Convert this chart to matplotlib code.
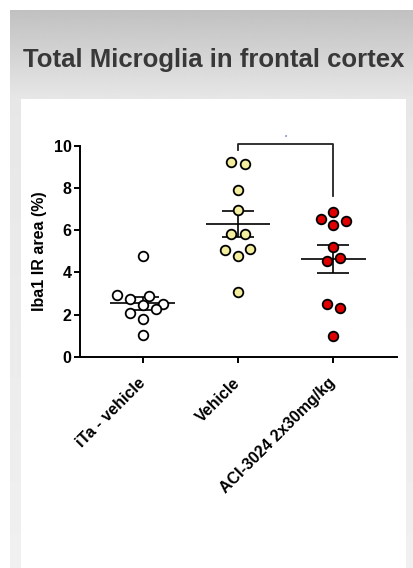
import matplotlib
matplotlib.use("Agg")
import matplotlib.pyplot as plt
from matplotlib.patches import Rectangle
import numpy as np

plt.rcParams["font.family"] = ["Liberation Sans", "DejaVu Sans"]
plt.rcParams["font.weight"] = "bold"

W, H = 413, 568

groups = ["iTa - vehicle", "Vehicle", "ACI-3024 2x30mg/kg"]
face_colors = ["white", "#f3ee9e", "#e00000"]

# Iba1 IR area (%) per animal, with horizontal jitter offsets
ita_vals = [4.78, 2.93, 2.73, 2.90, 2.46, 2.51, 2.26, 2.07, 1.80, 1.04]
ita_dx = [0.0, -0.27, -0.14, 0.07, 0.0, 0.21, 0.14, -0.14, 0.0, 0.0]
veh_vals = [9.21, 9.15, 7.89, 6.96, 5.81, 5.81, 5.06, 4.80, 5.11, 3.06]
veh_dx = [-0.07, 0.07, 0.0, 0.0, -0.07, 0.07, -0.14, 0.0, 0.13, 0.0]
aci_vals = [6.86, 6.55, 6.44, 6.23, 5.19, 4.56, 4.70, 2.49, 2.33, 0.99]
aci_dx = [0.0, -0.13, 0.13, 0.0, 0.0, -0.07, 0.07, -0.07, 0.07, 0.0]

values = [ita_vals, veh_vals, aci_vals]
offsets = [ita_dx, veh_dx, aci_dx]

# significance bracket between Vehicle and ACI-3024
bracket = (1, 2)
bracket_top = 10.1
bracket_legs = (9.8, 7.6)

fig = plt.figure(figsize=(W / 100, H / 100), dpi=100)

# page background: grey header gradient with a white card
bg = fig.add_axes([0, 0, 1, 1])
bg.set_xlim(0, W)
bg.set_ylim(H, 0)
bg.axis("off")
grad = np.concatenate([np.linspace(0.755, 0.905, 90), np.linspace(0.905, 0.94, 468)])
bg.imshow(np.tile(grad[:, None], (1, 2)), cmap="gray", vmin=0, vmax=1,
          extent=(10, W, H, 10), aspect="auto", interpolation="bilinear")
bg.add_patch(Rectangle((21, 99), 385, H - 99, facecolor="white", edgecolor="none"))
bg.text(23, 60, "Total Microglia in frontal cortex", fontsize=18.5,
        fontweight="bold", color="#383838", va="center", ha="left")

ax = fig.add_axes([80 / W, 1 - 357 / H, 317 / W, (357 - 145.7) / H])
ax.set_facecolor("none")

for i, (vals, dx) in enumerate(zip(values, offsets)):
    vals = np.asarray(vals)
    x = i + np.asarray(dx)
    mean = vals.mean()
    sem = vals.std(ddof=1) / np.sqrt(len(vals))
    ax.hlines(mean, i - 0.34, i + 0.34, color="black", lw=1.2, zorder=2)
    ax.vlines(i, mean - sem, mean + sem, color="black", lw=1.2, zorder=2)
    ax.hlines([mean - sem, mean + sem], i - 0.17, i + 0.17, color="black",
              lw=1.2, zorder=2)
    ax.scatter(x, vals, s=48, facecolor=face_colors[i], edgecolor="black",
               linewidths=1.3, zorder=3)

a, b = bracket
ax.plot([a, a, b, b], [bracket_legs[0], bracket_top, bracket_top, bracket_legs[1]],
        color="#222222", lw=1.3, clip_on=False)
ax.text((a + b) / 2, bracket_top + 0.3, "*", fontsize=4, color="#4a6a9a",
        ha="center", va="center")

ax.set_xlim(-0.66, 2.67)
ax.set_ylim(0, 10)
ax.set_yticks([0, 2, 4, 6, 8, 10])
ax.set_xticks(range(len(groups)))
ax.set_xticklabels(groups, rotation=45, ha="right", va="center",
                   rotation_mode="anchor", fontsize=11.5, fontweight="bold")
for lbl in ax.get_yticklabels():
    lbl.set_fontweight("bold")
    lbl.set_fontsize(11.5)
ax.set_ylabel("Iba1 IR area (%)", fontsize=11.5, fontweight="bold", labelpad=5)
for side in ["top", "right"]:
    ax.spines[side].set_visible(False)
for side in ["left", "bottom"]:
    ax.spines[side].set_linewidth(1.4)
ax.tick_params(direction="out", length=4, width=1.4, color="black")
ax.tick_params(axis="y", pad=2)
ax.tick_params(axis="x", pad=13)

fig.savefig("out.png", dpi=100)
